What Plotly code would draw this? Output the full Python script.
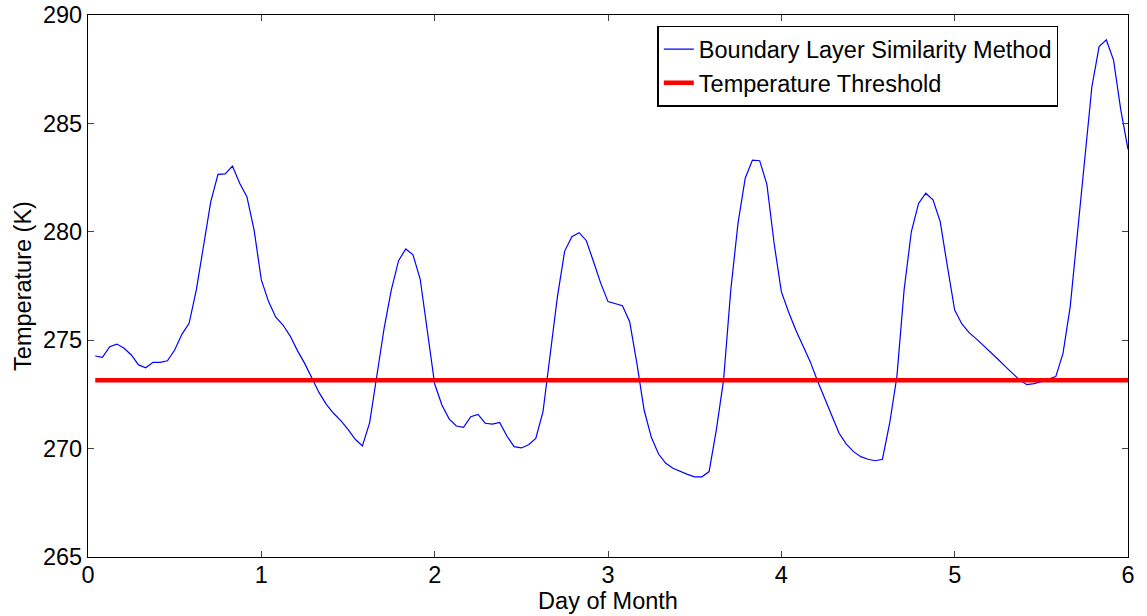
import plotly.graph_objects as go

# hourly samples, day k/24 for k = 1..144
hours = list(range(1, 145))
days = [h / 24 for h in hours]

temperature_bls = [
    274.27, 274.21, 274.70, 274.82, 274.63, 274.32, 273.86, 273.73, 273.98, 273.98,
    274.05, 274.55, 275.27, 275.78, 277.32, 279.31, 281.39, 282.65, 282.67, 283.03,
    282.24, 281.62, 280.08, 277.78, 276.78, 276.06, 275.70, 275.19, 274.52, 273.93,
    273.25, 272.58, 272.04, 271.63, 271.29, 270.89, 270.43, 270.12, 271.20, 273.32,
    275.55, 277.32, 278.67, 279.21, 278.94, 277.81, 275.47, 272.98, 272.01, 271.37,
    271.04, 270.98, 271.47, 271.58, 271.17, 271.13, 271.21, 270.58, 270.09, 270.03,
    270.18, 270.47, 271.70, 274.30, 277.01, 279.11, 279.77, 279.96, 279.59, 278.62,
    277.62, 276.78, 276.69, 276.59, 275.85, 273.93, 271.78, 270.52, 269.75, 269.32,
    269.09, 268.94, 268.81, 268.70, 268.70, 268.94, 270.86, 273.16, 277.32, 280.39,
    282.47, 283.31, 283.28, 282.19, 279.47, 277.24, 276.30, 275.47, 274.70, 274.01,
    273.13, 272.32, 271.47, 270.71, 270.21, 269.86, 269.63, 269.51, 269.44, 269.51,
    271.17, 273.32, 277.32, 280.00, 281.31, 281.78, 281.47, 280.47, 278.39, 276.39,
    275.75, 275.35, 275.06, 274.75, 274.46, 274.12, 273.79, 273.46, 273.16, 272.95,
    273.00, 273.09, 273.21, 273.32, 274.39, 276.55, 279.93, 283.46, 286.69, 288.54,
    288.85, 287.92, 285.62, 283.80,
]

threshold_value = 273.15
threshold = [threshold_value] * len(days)

x_ticks = [0, 1, 2, 3, 4, 5, 6]
y_ticks = [265, 270, 275, 280, 285, 290]

font_family = "Liberation Sans, Arial, Helvetica, sans-serif"
fsize = 23.5

fig = go.Figure()
fig.add_trace(go.Scatter(
    x=days, y=temperature_bls, mode="lines",
    name="Boundary Layer Similarity Method",
    line=dict(color="#0000ff", width=1.2),
))
fig.add_trace(go.Scatter(
    x=days, y=threshold, mode="lines",
    name="Temperature Threshold",
    line=dict(color="#ff0000", width=4.5),
))

axis_common = dict(
    showline=True, linecolor="black", linewidth=1.3, mirror="allticks",
    ticks="inside", ticklen=6, tickwidth=1, tickcolor="#444444",
    showgrid=False, zeroline=False, automargin=False,
    tickfont=dict(family=font_family, size=fsize, color="black"),
)

fig.update_layout(
    width=1147, height=616,
    margin=dict(l=88, r=19, t=15, b=59),
    paper_bgcolor="white", plot_bgcolor="white",
    font=dict(family=font_family, size=fsize, color="black"),
    xaxis=dict(
        range=[0, 6], tickvals=x_ticks, ticktext=[str(v) for v in x_ticks],
        title=dict(text="Day of Month", font=dict(size=fsize), standoff=0),
        ticklabelstandoff=-3,
        **axis_common,
    ),
    yaxis=dict(
        range=[265, 290], tickvals=y_ticks, ticktext=[str(v) for v in y_ticks],
        title=dict(text="Temperature (K)", font=dict(size=fsize), standoff=4),
        **axis_common,
    ),
    legend=dict(
        x=0.933, y=0.98, xanchor="right", yanchor="top",
        bgcolor="white", bordercolor="black", borderwidth=1.5,
        font=dict(family=font_family, size=fsize, color="black"),
        tracegroupgap=0, itemwidth=30,
    ),
    showlegend=True,
)

fig.write_html("out.html")
